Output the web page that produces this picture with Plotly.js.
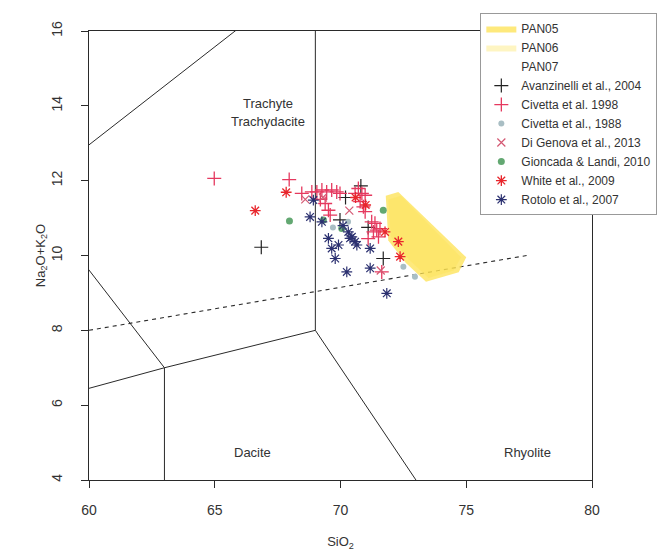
<!DOCTYPE html>
<html>
<head>
<meta charset="utf-8">
<script src="https://cdn.plot.ly/plotly-3.0.1.min.js"></script>
<style>html,body{margin:0;padding:0;background:#fff;}#chart{width:661px;height:551px;}</style>
</head>
<body>
<div id="chart"></div>
<script>
// ---- TAS field boundaries (SiO2, Na2O+K2O) ----
const bTopX = [57.6, 66.0];          const bTopY = [11.7, 16.1];
const bTrAnX = [57.6, 63, 69, 69];   const bTrAnY = [11.7, 7, 8, 16];
const bAndX = [57, 63, 63];          const bAndY = [5.9, 7, 0];
const bDacX = [69, 77];              const bDacY = [8, 0];
const divX = [60, 77.4];             const divY = [8, 10];

// ---- PAN fields ----
const pan05X = [71.8, 72.3, 75.0, 74.7, 73.4, 72.6, 71.9, 71.8];
const pan05Y = [11.6, 11.7, 9.95, 9.55, 9.3, 9.8, 10.4, 11.6];
const pan06X = [71.9, 72.4, 74.8, 74.5, 73.5, 72.7, 72.0, 71.9];
const pan06Y = [11.5, 11.6, 9.95, 9.6, 9.4, 9.9, 10.5, 11.5];
const pan07X = [72.0, 72.4, 74.6, 74.3, 73.5, 72.8, 72.1, 72.0];
const pan07Y = [11.3, 11.4, 9.95, 9.65, 9.5, 9.95, 10.5, 11.3];

// ---- literature data ----
const avaX = [70.81, 69.98, 71.70, 66.85, 70.2, 71.1];
const avaY = [11.86, 10.95, 9.92, 10.22, 11.55, 10.75];

const civ98X = [64.98, 67.96, 68.46, 68.86, 69.06, 69.26, 69.45, 69.65, 69.85, 69.98, 69.39, 69.52, 69.59,
                70.58, 70.85, 70.98, 70.78, 70.91, 70.98, 71.24, 71.37, 71.44, 71.31, 71.57, 71.51, 71.64, 70.71, 69.2, 71.1];
const civ98Y = [12.06, 12.03, 11.66, 11.70, 11.70, 11.75, 11.70, 11.75, 11.70, 11.66, 11.39, 11.21, 11.08,
                11.66, 11.66, 11.61, 11.44, 11.30, 11.17, 10.90, 10.86, 10.68, 10.63, 10.72, 10.50, 9.56, 11.79, 11.5, 10.45];

const civ88X = [72.5, 72.96, 69.7, 70.3];
const civ88Y = [9.70, 9.43, 10.75, 10.9];

const digX = [68.6, 69.3, 70.35, 71.6];
const digY = [11.5, 11.55, 11.2, 9.6];

const gioX = [67.97, 69.32, 70.05, 71.70];
const gioY = [10.92, 10.95, 10.72, 11.21];

const whiX = [66.61, 67.84, 72.30, 72.37, 70.6, 71.0, 71.77];
const whiY = [11.20, 11.69, 10.37, 9.97, 11.55, 11.35, 10.63];

const rotX = [68.79, 68.92, 69.26, 69.52, 69.65, 69.92, 69.79, 70.25, 70.31, 70.45, 70.58, 70.65, 71.18, 71.18, 71.84, 70.1, 70.38];
const rotY = [11.03, 11.48, 10.90, 10.46, 10.19, 10.28, 9.92, 9.56, 10.63, 10.50, 10.37, 10.28, 10.19, 9.66, 8.99, 10.8, 10.46];

// ---- labels ----
const fieldNames = ['Trachyte', 'Trachydacite', 'Dacite', 'Rhyolite'];
const fieldX = [67.12, 67.12, 66.5, 77.45];
const fieldY = [14.07, 13.59, 4.74, 4.74];

const lineStyle = {color: '#2a2a2a', width: 1};
function bnd(x, y, dash) {
  return {x: x, y: y, mode: 'lines', line: Object.assign({}, lineStyle, dash ? {dash: '4px,4px', width: 1.1} : {}),
          showlegend: false, hoverinfo: 'skip'};
}
function poly(name, x, y, col) {
  return {x: x, y: y, name: name, mode: 'lines', fill: 'toself', fillcolor: col,
          line: {width: 0, color: col}, hoverinfo: 'skip'};
}
function pts(name, x, y, sym, col, size, lw) {
  return {x: x, y: y, name: name, mode: 'markers', type: 'scatter',
          marker: {symbol: sym, size: size, color: col, line: {color: col, width: lw}}};
}

const traces = [
  bnd(bTopX, bTopY), bnd(bTrAnX, bTrAnY), bnd(bAndX, bAndY), bnd(bDacX, bDacY), bnd(divX, divY, true),
  poly('PAN05', pan05X, pan05Y, 'rgba(253,226,80,0.75)'),
  poly('PAN06', pan06X, pan06Y, 'rgba(253,226,80,0.35)'),
  poly('PAN07', pan07X, pan07Y, 'rgba(255,255,255,0)'),
  pts('Avanzinelli et al., 2004', avaX, avaY, 'cross-thin-open', '#222', 10, 1.2),
  pts('Civetta et al. 1998', civ98X, civ98Y, 'cross-thin-open', '#e5395f', 10, 1.3),
  pts('Civetta et al., 1988', civ88X, civ88Y, 'circle', '#a9bec4', 6, 0),
  pts('Di Genova et al., 2013', digX, digY, 'x-thin-open', '#d45a74', 8, 1.2),
  pts('Gioncada & Landi, 2010', gioX, gioY, 'circle', '#63a872', 7, 0),
  pts('White et al., 2009', whiX, whiY, 'asterisk-open', '#e8262c', 9, 1.3),
  pts('Rotolo et al., 2007', rotX, rotY, 'asterisk-open', '#2b3070', 9, 1.2)
];

const axisFont = {family: 'Liberation Sans, Arial, sans-serif', size: 14, color: '#333'};
const titleFont = {family: 'Liberation Sans, Arial, sans-serif', size: 13, color: '#333'};

const layout = {
  width: 661, height: 551,
  margin: {l: 89, r: 69, t: 31, b: 71, autoexpand: false},
  paper_bgcolor: '#fff', plot_bgcolor: '#fff',
  font: titleFont,
  showlegend: true,
  legend: {x: 0.778, xanchor: 'left', y: 1.04, yanchor: 'top',
           bgcolor: '#fff', bordercolor: '#999', borderwidth: 1,
           entrywidth: 175, entrywidthmode: 'pixels',
           font: {family: 'Liberation Sans, Arial, sans-serif', size: 12, color: '#333'},
           tracegroupgap: 0},
  xaxis: {range: [60, 80], tickvals: [60, 65, 70, 75, 80], showgrid: false, zeroline: false,
          showline: true, mirror: true, linecolor: '#2a2a2a', linewidth: 1,
          ticks: 'outside', ticklen: 7, tickcolor: '#2a2a2a', tickfont: axisFont, ticklabelstandoff: 10,
          title: {text: 'SiO<sub>2</sub>', font: titleFont, standoff: 22}},
  yaxis: {range: [4, 16], tickvals: [4, 6, 8, 10, 12, 14, 16], showgrid: false, zeroline: false,
          showline: true, mirror: true, linecolor: '#2a2a2a', linewidth: 1,
          ticks: 'outside', ticklen: 7, tickcolor: '#2a2a2a', tickangle: -90, tickfont: axisFont, ticklabelstandoff: 13,
          title: {text: 'Na<sub>2</sub>O+K<sub>2</sub>O', font: titleFont, standoff: 0}},
  annotations: fieldNames.map((t, i) => ({x: fieldX[i], y: fieldY[i], xref: 'x', yref: 'y', text: t,
                                          showarrow: false, font: titleFont}))
};

Plotly.newPlot('chart', traces, layout, {staticPlot: true, displayModeBar: false});
</script>
</body>
</html>
